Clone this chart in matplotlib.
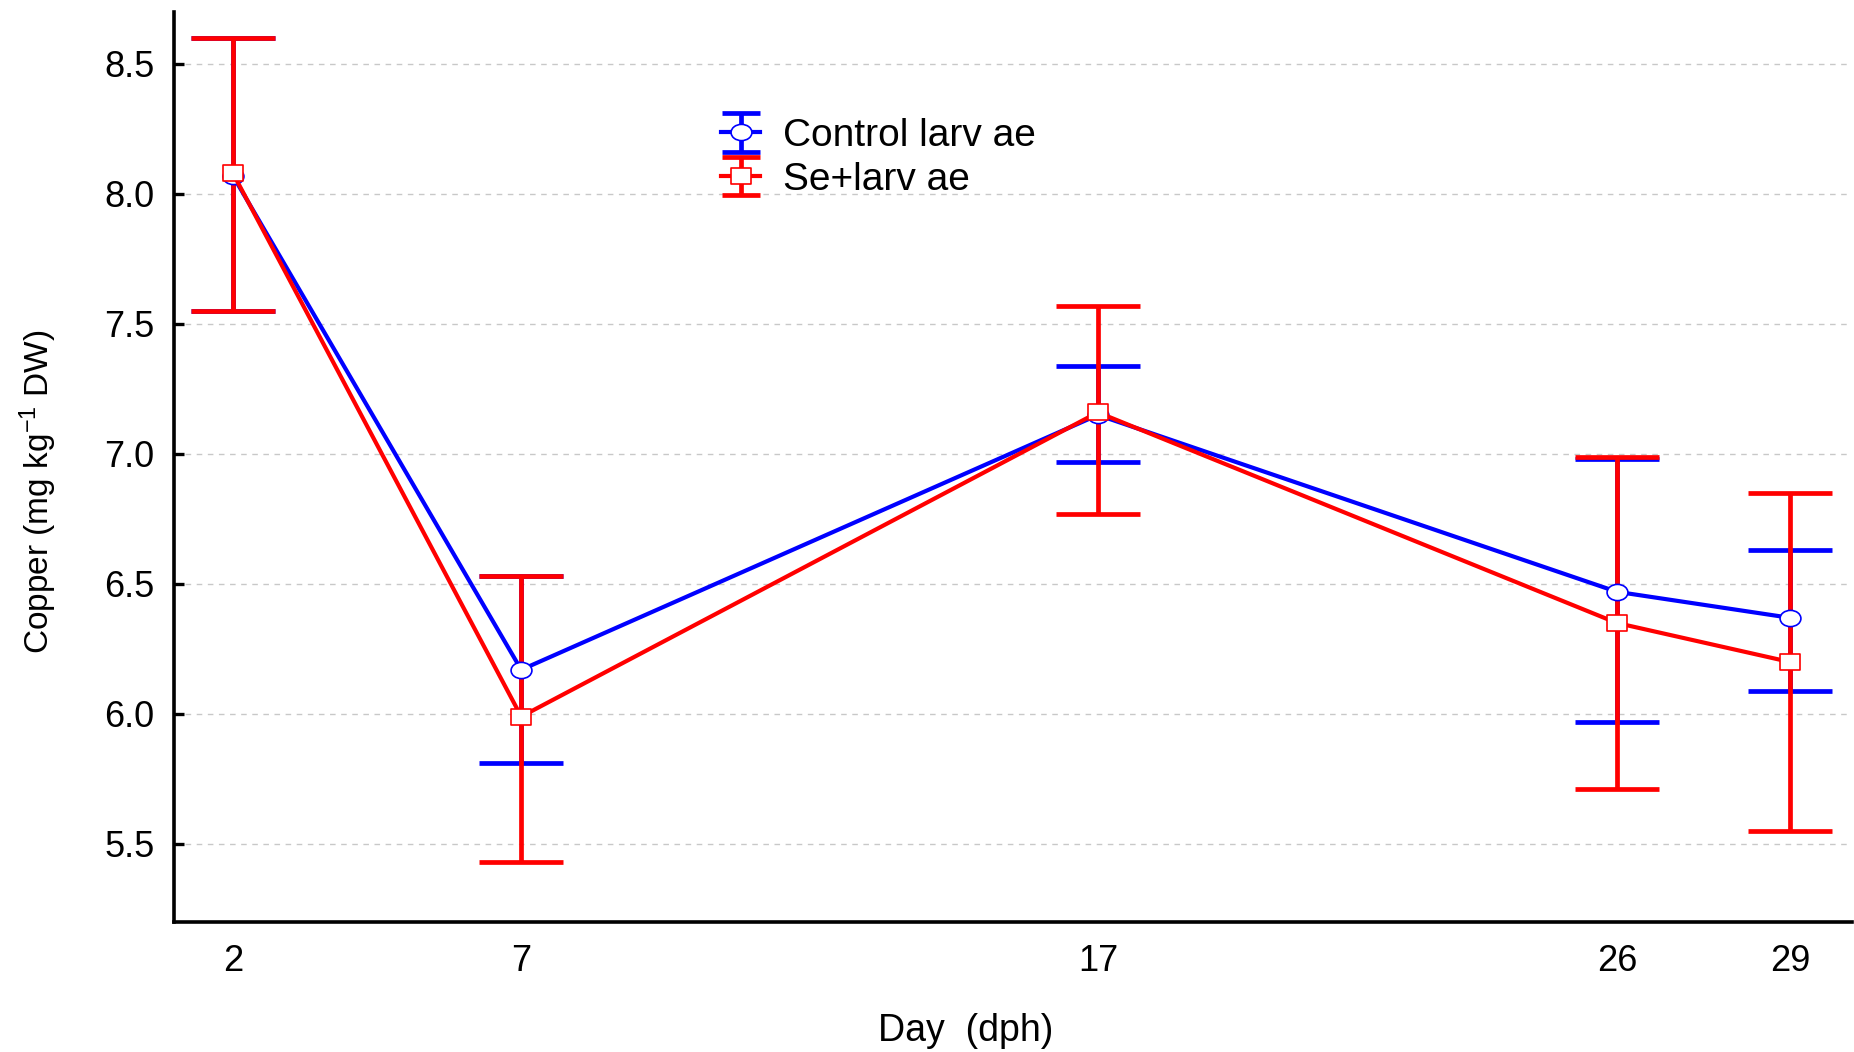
import numpy as np
import matplotlib
matplotlib.use("Agg")
import matplotlib.pyplot as plt
from matplotlib.path import Path
from matplotlib.container import ErrorbarContainer
from matplotlib.legend_handler import HandlerErrorbar

plt.rcParams['font.family'] = ['Liberation Sans', 'DejaVu Sans']
plt.rcParams['mathtext.fontset'] = 'custom'
plt.rcParams['mathtext.rm'] = 'Liberation Sans'
plt.rcParams['mathtext.it'] = 'Liberation Sans'

# datos
days = [2, 7, 17, 26, 29]

control_mean = [8.07, 6.17, 7.15, 6.47, 6.37]
control_low = [7.55, 5.81, 6.97, 5.97, 6.09]
control_high = [8.60, 6.53, 7.34, 6.98, 6.63]

se_mean = [8.08, 5.99, 7.16, 6.35, 6.20]
se_low = [7.55, 5.43, 6.77, 5.71, 5.55]
se_high = [8.60, 6.53, 7.57, 6.99, 6.85]

yticks = [5.5, 6.0, 6.5, 7.0, 7.5, 8.0, 8.5]

# marcadores algo aplanados (como en el original)
circ = Path.unit_circle()
ellipse = Path(circ.vertices * np.array([1.0, 0.78]), circ.codes)
rect = Path([(-1, -0.78), (1, -0.78), (1, 0.78), (-1, 0.78), (-1, -0.78)],
            [Path.MOVETO, Path.LINETO, Path.LINETO, Path.LINETO, Path.CLOSEPOLY])

fig = plt.figure(figsize=(18.54, 10.52), dpi=100)
ax = fig.add_axes([0.0939, 0.1236, 0.9051, 0.865])

def err(mean, low, high):
    m = np.array(mean)
    return [m - np.array(low), np.array(high) - m]

eb1 = ax.errorbar(days, control_mean, yerr=err(control_mean, control_low, control_high),
                  color='#0000ff', lw=3, elinewidth=3.4, capsize=30, capthick=3.4,
                  marker=ellipse, markersize=15, markerfacecolor='white',
                  markeredgecolor='#0000ff', label='Control larv ae')
eb2 = ax.errorbar(days, se_mean, yerr=err(se_mean, se_low, se_high),
                  color='#ff0000', lw=3, elinewidth=3.4, capsize=30, capthick=3.4,
                  marker=rect, markersize=15, markerfacecolor='white',
                  markeredgecolor='#ff0000', label='Se+larv ae')
# borde fino solo en los marcadores
eb1.lines[0].set_markeredgewidth(1.2)
eb2.lines[0].set_markeredgewidth(1.2)

ax.set_xlim(0.98, 30.08)
ax.set_ylim(5.2, 8.7)
ax.set_xticks(days)
ax.set_yticks(yticks)
ax.set_yticklabels([f"{v:.1f}" for v in yticks])
ax.tick_params(axis='y', direction='in', length=7, width=2.4, labelsize=26, pad=14)
ax.tick_params(axis='x', length=0, labelsize=26, pad=16)

ax.yaxis.grid(True, linestyle=(0, (4, 4)), color='#c8c8c8', lw=1)
ax.set_axisbelow(True)

for s in ['top', 'right']:
    ax.spines[s].set_visible(False)
for s in ['left', 'bottom']:
    ax.spines[s].set_linewidth(2.6)

ax.set_xlabel('Day  (dph)', fontsize=27, va='center')
ax.xaxis.set_label_coords(0.472, -0.12)
ax.set_ylabel(r'Copper (mg kg$^{-1}$ DW)', fontsize=24, va='center')
ax.yaxis.set_label_coords(-0.081, 0.4725)

# tapas mas cortas en la leyenda
def small_caps(leg_h, orig_h):
    leg_h.update_from(orig_h)
    if hasattr(leg_h, 'get_marker') and leg_h.get_marker() == '_':
        leg_h.set_markersize(28)

ax.legend(loc='upper left', bbox_to_anchor=(0.389, 0.888),
          bbox_transform=fig.transFigure, frameon=False, fontsize=28,
          handlelength=1.0, handletextpad=0.6, labelspacing=0.2,
          borderpad=0, borderaxespad=0,
          handler_map={ErrorbarContainer: HandlerErrorbar(update_func=small_caps)})

fig.savefig("out.png", dpi=100)
